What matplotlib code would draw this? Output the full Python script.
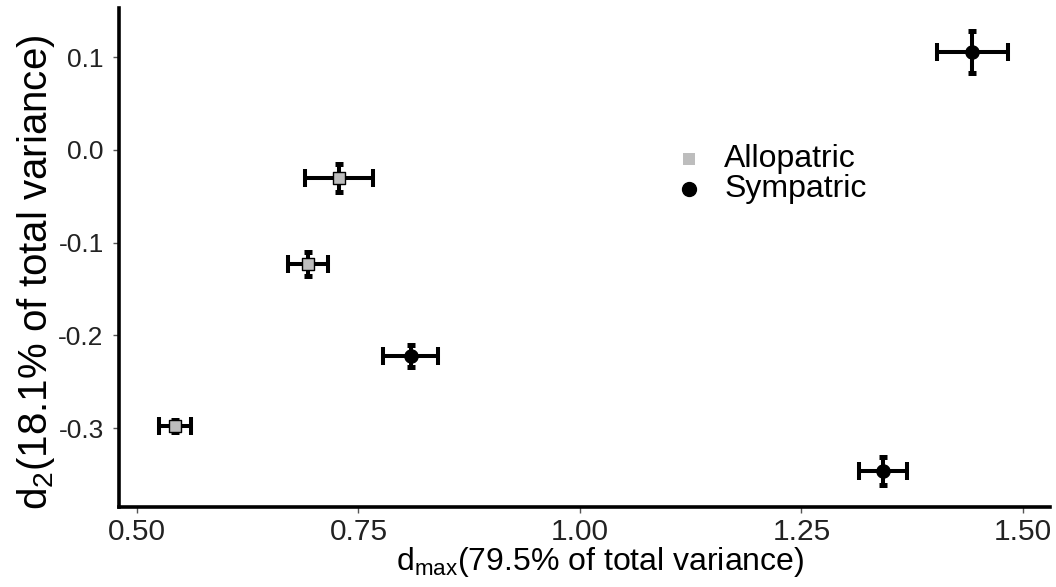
import numpy as np
import matplotlib
matplotlib.use("Agg")
import matplotlib.pyplot as plt

plt.rcParams['font.family'] = ['Liberation Sans', 'DejaVu Sans']
plt.rcParams['mathtext.fontset'] = 'custom'
plt.rcParams['mathtext.rm'] = 'Liberation Sans'
plt.rcParams['mathtext.it'] = 'Liberation Sans'

# group means and standard errors on the two discriminant axes
allo_x = [0.728, 0.693, 0.543]
allo_y = [-0.0305, -0.1227, -0.2977]
allo_xerr = [0.0387, 0.0226, 0.018]
allo_yerr = [0.0148, 0.0127, 0.006]

sym_x = [1.443, 0.809, 1.342]
sym_y = [0.106, -0.222, -0.346]
sym_xerr = [0.040, 0.031, 0.027]
sym_yerr = [0.0227, 0.0119, 0.0151]

xticks = [0.50, 0.75, 1.00, 1.25, 1.50]
xticklabels = ["0.50", "0.75", "1.00", "1.25", "1.50"]
yticks = [0.1, 0.0, -0.1, -0.2, -0.3]
yticklabels = ["0.1", "0.0", "-0.1", "-0.2", "-0.3"]

fig = plt.figure(figsize=(10.56, 5.87), dpi=100)
ax = fig.add_axes([0.1127, 0.1363, 0.8816, 0.850])

for xs, ys, xe, ye in [(allo_x, allo_y, allo_xerr, allo_yerr),
                       (sym_x, sym_y, sym_xerr, sym_yerr)]:
    # horizontal bars with tall caps, vertical bars with short caps
    ax.errorbar(xs, ys, xerr=xe, fmt='none', ecolor='black',
                elinewidth=2.9, capsize=6.5, capthick=2.9, zorder=2)
    ax.errorbar(xs, ys, yerr=ye, fmt='none', ecolor='black',
                elinewidth=2.9, capsize=3.2, capthick=3.6, zorder=2)

ax.scatter(allo_x, allo_y, marker='s', s=72, facecolor='#bdbdbd',
           edgecolor='black', linewidth=1.0, zorder=3)
ax.scatter(sym_x, sym_y, marker='o', s=90, facecolor='black',
           edgecolor='black', zorder=3)

# legend entries
h1 = ax.scatter([], [], marker='s', s=75, facecolor='#bdbdbd', edgecolor='none')
h2 = ax.scatter([], [], marker='o', s=100, facecolor='black')
ax.legend([h1, h2], ["Allopatric", "Sympatric"], loc='upper left',
          bbox_to_anchor=(0.595, 0.727), frameon=False, fontsize=23,
          handletextpad=0.6, labelspacing=0.0, borderpad=0,
          handlelength=1.0, borderaxespad=0)

ax.set_xlim(0.4797, 1.5305)
ax.set_ylim(-0.385, 0.153)
ax.set_xticks(xticks)
ax.set_xticklabels(xticklabels)
ax.set_yticks(yticks)
ax.set_yticklabels(yticklabels)
ax.tick_params(axis='both', length=4, width=1, color='#555555',
               labelcolor='#222222')
ax.tick_params(axis='x', labelsize=21.5, pad=4)
ax.tick_params(axis='y', labelsize=19, pad=7)

ax.spines['top'].set_visible(False)
ax.spines['right'].set_visible(False)
ax.spines['left'].set_linewidth(2.6)
ax.spines['bottom'].set_linewidth(2.6)

ax.set_xlabel(r"d$_{\mathrm{max}}$(79.5% of total variance)", fontsize=23)
ax.xaxis.set_label_coords(0.517, -0.076)
ax.set_ylabel(r"d$_{2}$(18.1% of total variance)", fontsize=29)
ax.yaxis.set_label_coords(-0.067, 0.47)

fig.savefig("out.png", dpi=100)
